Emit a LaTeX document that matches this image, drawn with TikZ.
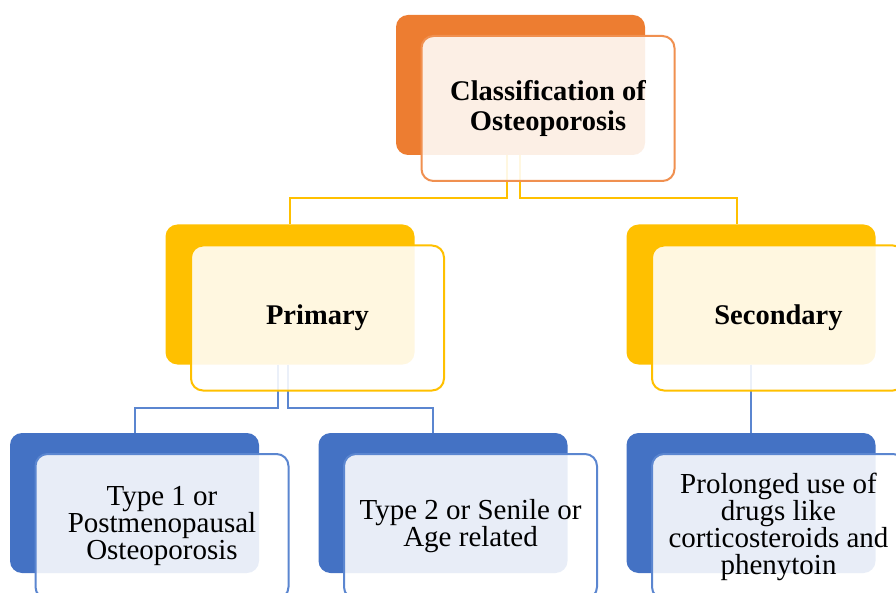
\documentclass[tikz,border=0pt]{standalone}
\usepackage{fontspec}
\setmainfont{Liberation Serif}
\usetikzlibrary{backgrounds}
\definecolor{osorange}{HTML}{ED7D31}
\definecolor{osyellow}{HTML}{FFC000}
\definecolor{osblue}{HTML}{4472C4}
\definecolor{oslink}{HTML}{5B86D0}

\begin{document}
\begin{tikzpicture}[
  x=1pt, y=-1pt,
  % solid card behind, light card in front shifted down-right
  back/.style={rounded corners=12pt, inner sep=0pt, outer sep=0pt,
               minimum width=249pt, minimum height=140pt},
  front/.style={rounded corners=12pt, line width=2pt, fill=white,
                fill opacity=0.88, text opacity=1, inner sep=0pt, outer sep=0pt,
                minimum width=253pt, minimum height=145pt, align=center,
                shift={(27.5,23.5)}, font=\fontsize{29}{27}\selectfont},
  head/.style={front, font=\fontsize{28.5}{30}\selectfont\bfseries},
  ylink/.style={draw=osyellow, line width=2pt},
  blink/.style={draw=oslink, line width=2pt}
]
\useasboundingbox (0,0) rectangle (896,593);
\clip (0,0) rectangle (896,593);

\node[back, fill=osorange] (topb) at (520.5,85) {};
\node[head, draw=osorange!85] (top) at (topb) {Classification of\\Osteoporosis};

\node[back, fill=osyellow] (prib) at (290,294.5) {};
\node[head, draw=osyellow] (pri) at (prib) {Primary};
\node[back, fill=osyellow] (secb) at (751,294.5) {};
\node[head, draw=osyellow] (sec) at (secb) {Secondary};

\node[back, fill=osblue] (t1b) at (134.5,503) {};
\node[front, draw=oslink] (t1) at (t1b) {Type 1 or\\Postmenopausal\\Osteoporosis};
\node[back, fill=osblue] (t2b) at (443,503) {};
\node[front, draw=oslink] (t2) at (t2b) {Type 2 or Senile or\\Age related};
\node[back, fill=osblue] (t3b) at (751,503) {};
\node[front, draw=oslink] (t3) at (t3b) {Prolonged use of\\drugs like\\corticosteroids and\\phenytoin};

\begin{scope}[on background layer]
  \draw[ylink] ([xshift=-14pt]topb.south) -- ++(0,43) -| (prib.north);
  \draw[ylink] ([xshift=-1pt]topb.south) -- ++(0,43) -| ([xshift=-14pt]secb.north);
  \draw[blink] ([xshift=-12pt]prib.south) -- ++(0,43) -| (t1b.north);
  \draw[blink] ([xshift=-2pt]prib.south) -- ++(0,43) -| ([xshift=-10pt]t2b.north);
  \draw[blink] (secb.south) -- (t3b.north);
\end{scope}
\end{tikzpicture}
\end{document}
